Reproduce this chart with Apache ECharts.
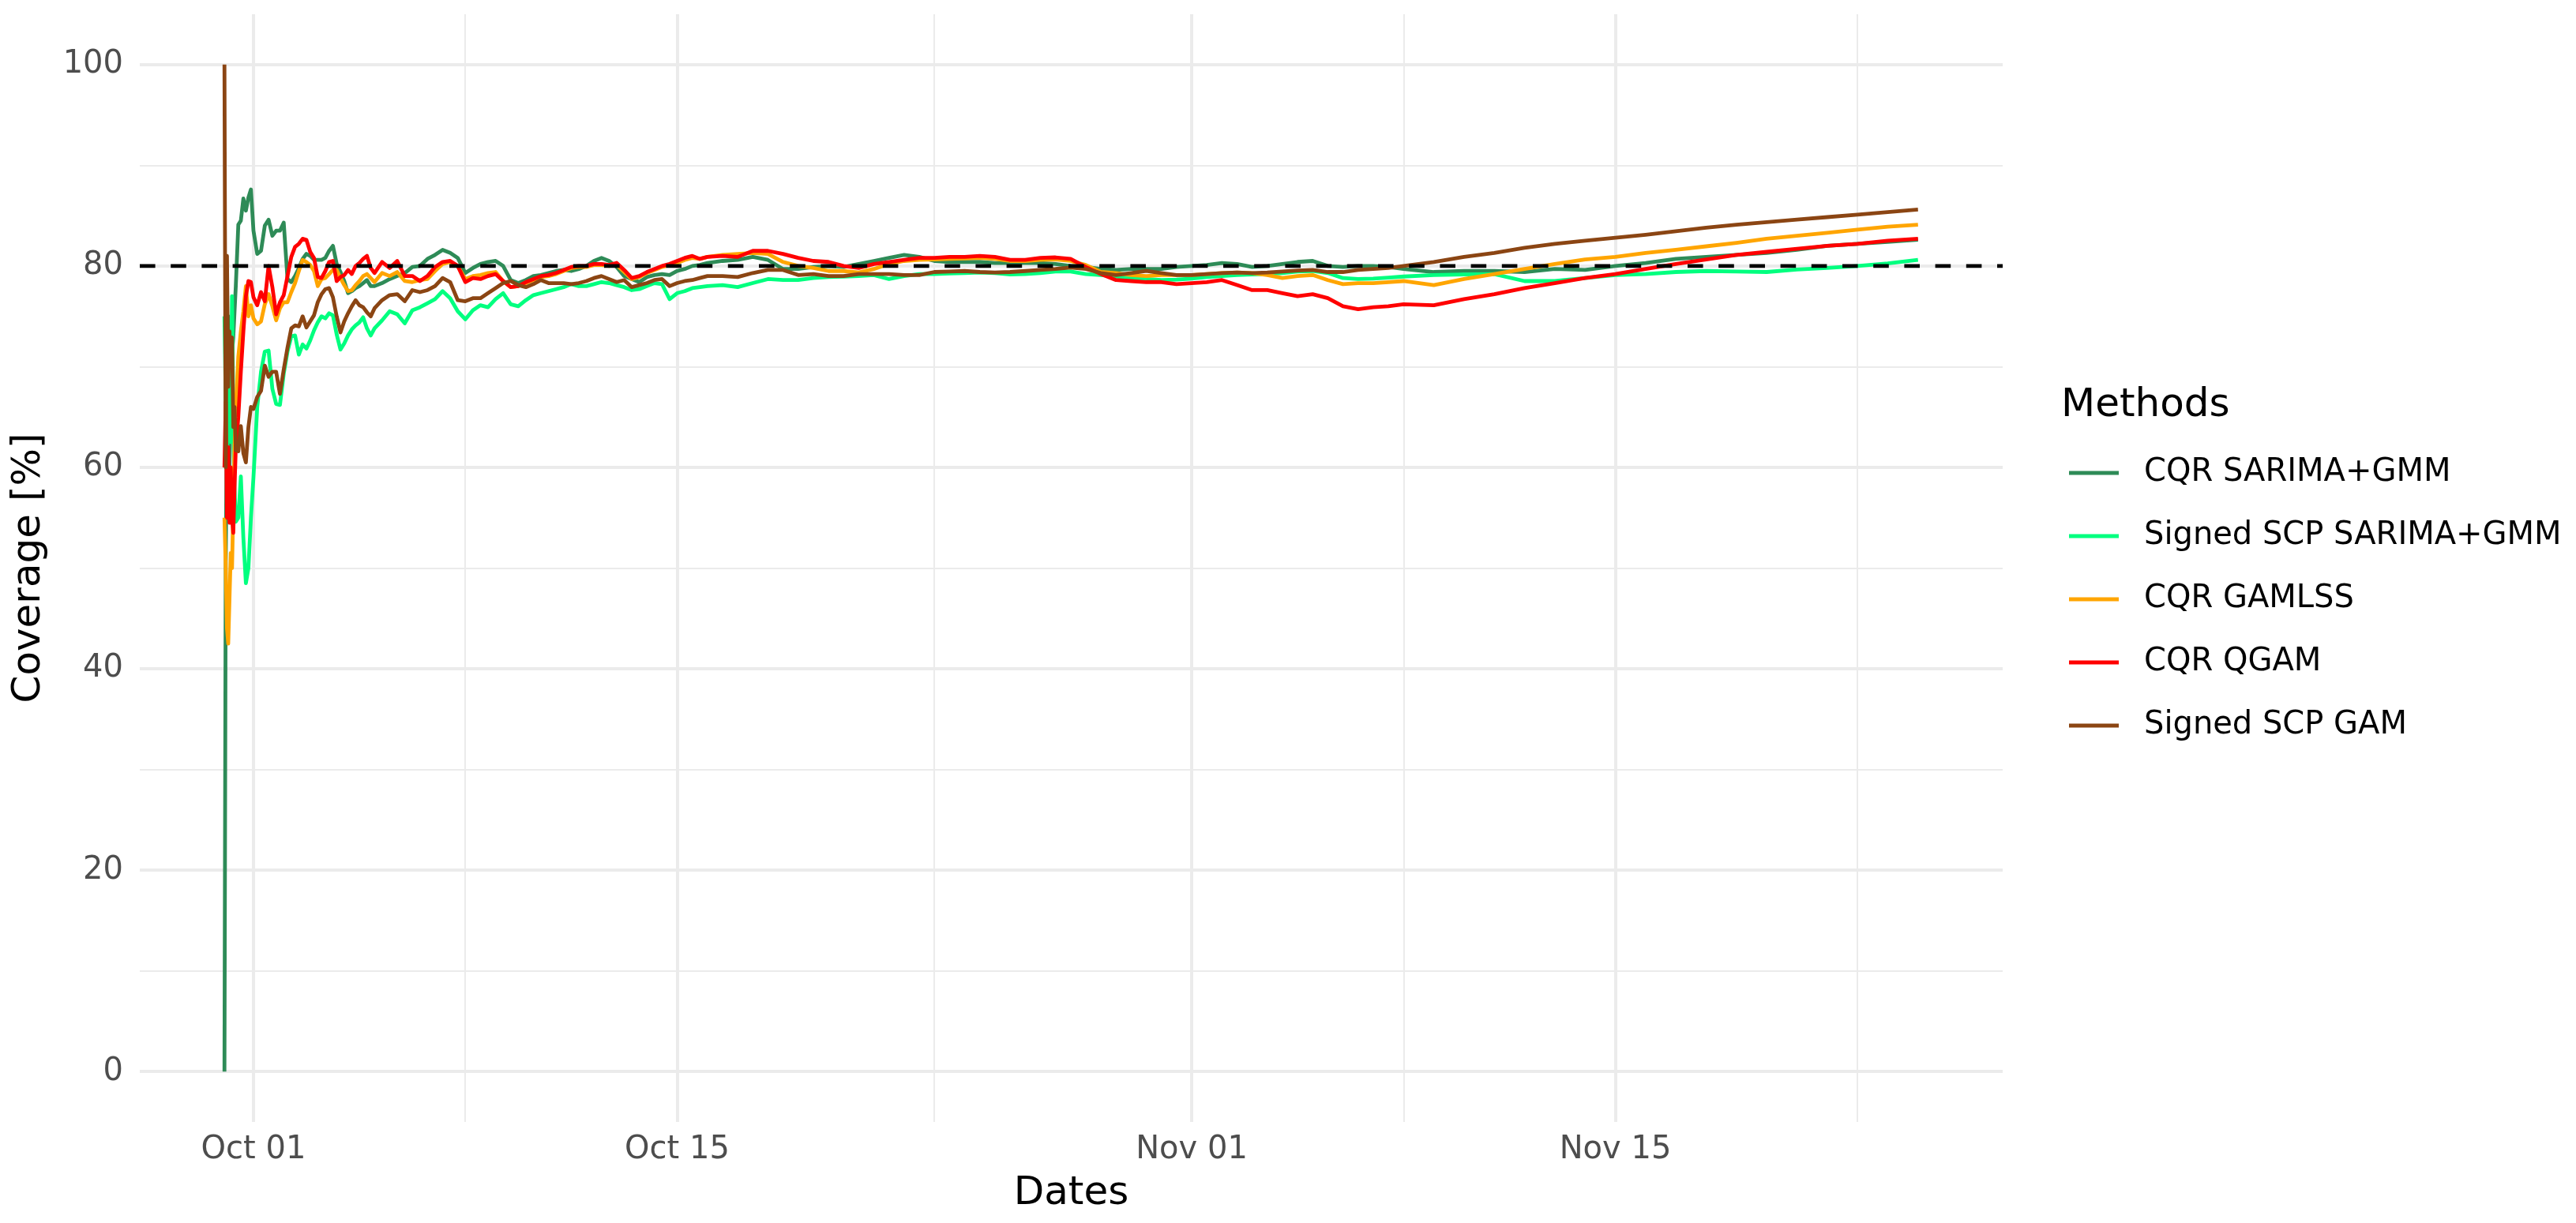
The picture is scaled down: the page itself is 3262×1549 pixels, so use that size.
<!DOCTYPE html>
<html>
<head>
<meta charset="utf-8">
<script src="https://cdn.jsdelivr.net/npm/echarts@6/dist/echarts.min.js"></script>
<style>
  html, body { margin: 0; padding: 0; background: #fff; }
  #chart { width: 3262px; height: 1549px; }
</style>
</head>
<body>
<div id="chart"></div>
<script>
// hours after Sep 30 00:00
const hours = [1,2,3,4,5,6,7,8,9,10,
  12,14,16,18,20,22,24,
  27,30,33,36,39,42,45,48,51,54,57,60,63,66,69,72,75,78,81,84,87,90,93,96,99,102,105,108,111,114,117,120,
  126,132,138,144,150,156,162,168,174,180,186,192,198,204,210,216,222,228,234,240,246,252,258,264,270,276,282,288,294,300,306,312,318,324,330,336,342,348,354,360,366,372,378,384,
  396,408,420,432,444,456,468,480,492,504,516,528,540,552,564,576,588,600,612,624,636,648,660,672,684,696,708,720,732,744,756,768,780,792,804,816,828,840,852,864,876,888,900,912,924,936,
  960,984,1008,1032,1056,1080,1104,1128,1152,1176,1200,1224,1248,1272,1296,1320,1344];

const cqrSarima = [0,50,66.7,75,60,66.7,71.4,72.9,75.5,78,
  84.1,84.5,86.7,85.5,86.8,87.6,83.5,
  81.2,81.5,84.0,84.6,83.0,83.5,83.5,84.3,78.7,78.4,79.0,79.8,80.7,81.2,81.0,80.6,80.6,80.6,80.8,81.5,82.0,80.2,79.4,78.5,77.3,77.5,77.8,78.0,78.3,78.6,78.0,78.0,
  78.3,78.7,79.0,79.3,79.9,80.0,80.7,81.1,81.6,81.3,80.8,79.3,79.8,80.2,80.4,80.5,80.0,78.6,78.3,78.6,79.0,79.1,79.3,79.5,79.6,79.5,79.7,80.0,80.5,80.8,80.5,79.9,79.0,78.7,78.4,78.9,79.1,79.2,79.1,79.5,79.7,80.0,80.1,80.3,
  80.5,80.6,80.9,80.6,79.7,79.7,79.9,80.0,79.9,80.2,80.5,80.8,81.1,80.9,80.5,80.4,80.4,80.4,80.3,80.3,80.3,80.3,80.2,80.0,79.9,79.7,79.6,79.7,79.7,79.7,79.9,80.0,80.1,80.3,80.2,79.9,80.0,80.2,80.4,80.5,80.0,79.9,80.0,80.0,79.9,79.7,
  79.4,79.5,79.5,79.4,79.7,79.6,80.0,80.3,80.7,80.9,81.1,81.3,81.6,82.0,82.2,82.4,82.6];

const scpSarima = [75,66.7,60,66.7,71.4,62.5,77,65.5,58,54.6,
  55.0,59.1,53,48.5,50,55,59,
  66.0,69.5,71.5,71.6,67.8,66.3,66.2,69.3,71.5,73.0,73.1,71.2,72.2,71.8,72.6,73.6,74.4,75.0,74.8,75.3,75.1,73.2,71.7,72.3,73.1,73.7,74.1,74.4,74.9,73.8,73.1,73.8,
  74.6,75.5,75.2,74.3,75.6,75.9,76.3,76.7,77.5,76.8,75.5,74.7,75.6,76.1,75.9,76.7,77.3,76.2,76.0,76.6,77.1,77.3,77.5,77.7,77.9,78.2,78.0,78.0,78.2,78.4,78.3,78.1,77.9,77.6,77.7,78.0,78.3,78.2,76.7,77.3,77.5,77.8,77.9,78.0,
  78.1,77.9,78.3,78.7,78.6,78.6,78.8,78.9,78.95,79.0,79.1,78.7,79.0,79.2,79.2,79.25,79.3,79.35,79.3,79.15,79.2,79.3,79.45,79.45,79.2,79.1,78.95,78.8,78.7,78.6,78.65,78.75,78.9,79.0,79.1,79.15,79.2,79.3,79.45,79.5,79.3,78.8,78.7,78.75,78.85,78.95,
  79.1,79.15,79.2,78.5,78.5,78.8,79.1,79.2,79.4,79.5,79.45,79.4,79.65,79.8,80.0,80.25,80.6];

const cqrGamlss = [55,50,44,42.5,47,51.5,50,56,62,66,
  71,73.5,75.5,78,75,76.1,74.8,
  74.2,74.5,76.2,77.2,76.0,74.6,75.8,76.4,76.4,77.4,78.3,79.5,80.6,80.4,80.1,79.5,78.0,78.7,78.8,79.2,79.6,79.6,78.8,78.1,77.5,77.6,78.1,78.5,79.0,79.2,78.8,78.4,
  79.3,79.0,79.4,78.5,78.4,78.6,78.7,79.5,80.2,80.4,80.0,78.7,79.0,79.1,79.3,79.4,78.5,77.9,78.0,78.3,78.6,78.9,79.0,79.2,79.5,79.8,79.9,79.9,80.1,80.1,80.0,80.1,79.4,78.7,78.9,79.3,79.6,79.9,80.1,80.3,80.6,80.8,80.7,80.9,
  81.1,81.2,81.3,81.2,80.4,80.0,79.8,79.5,79.5,79.35,79.7,80.2,80.5,80.6,80.65,80.7,80.75,80.8,80.7,80.5,80.5,80.6,80.65,80.5,80.1,79.4,79.3,79.1,79.0,79.1,79.1,79.1,79.2,79.3,79.35,79.3,79.1,78.8,79.0,79.1,78.6,78.2,78.3,78.3,78.4,78.5,
  78.1,78.7,79.2,79.7,80.2,80.65,80.9,81.3,81.6,81.95,82.3,82.7,83.0,83.3,83.6,83.9,84.1];

const cqrQgam = [60,66.5,55,62,54.5,60,55,53.5,58,62,
  65,69.5,73.5,77.0,78.5,78.4,76.9,
  76.1,77.4,76.5,80.0,77.9,75.2,76.4,77.1,79.0,80.9,81.9,82.2,82.7,82.6,81.4,80.8,78.9,78.8,79.5,80.4,80.5,78.5,78.9,79.1,79.6,79.2,80.0,80.3,80.7,81.0,79.8,79.3,
  80.4,79.8,80.5,79.0,79.0,78.5,79.0,79.9,80.4,80.5,80.0,78.4,78.8,78.7,79.0,79.2,78.5,77.9,78.0,78.4,78.7,79.0,79.1,79.3,79.6,79.9,80.0,80.0,80.2,80.2,80.1,80.3,79.6,78.8,79.0,79.4,79.7,80.0,80.2,80.5,80.8,81.0,80.7,80.9,
  81.0,80.9,81.5,81.5,81.2,80.8,80.5,80.4,80.0,79.8,80.2,80.4,80.6,80.8,80.8,80.9,80.9,81.0,80.9,80.6,80.6,80.8,80.85,80.7,79.9,79.2,78.6,78.5,78.4,78.4,78.2,78.3,78.4,78.6,78.1,77.6,77.6,77.3,77.0,77.2,76.8,76.0,75.7,75.9,76.0,76.2,
  76.1,76.7,77.2,77.8,78.3,78.8,79.2,79.7,80.2,80.65,81.1,81.4,81.7,82.0,82.2,82.5,82.7];

const scpGam = [100,60,81,68,73.5,70,72.9,64,66,61.7,
  61.6,64.1,61.4,60.5,64.0,66.0,65.8,
  67.0,67.6,70.1,69.0,69.5,69.5,67.3,69.7,71.9,73.8,74.1,74.0,75.0,73.9,74.5,75.1,76.4,77.2,77.7,77.8,76.9,75.0,73.4,74.5,75.3,76.0,76.6,76.1,75.9,75.4,75.0,75.8,
  76.6,77.1,77.2,76.5,77.6,77.4,77.6,78.0,78.8,78.4,76.6,76.5,76.8,76.8,77.3,77.8,78.3,78.5,78.1,77.9,78.2,78.6,78.3,78.3,78.3,78.2,78.3,78.5,78.8,79.0,78.7,78.4,78.6,77.9,78.1,78.3,78.6,78.7,78.0,78.3,78.5,78.6,78.8,79.0,
  79.0,78.9,79.3,79.6,79.6,79.1,79.2,79.0,79.0,79.2,79.2,79.2,79.1,79.1,79.4,79.45,79.5,79.4,79.35,79.4,79.5,79.6,79.7,79.85,79.7,79.3,79.1,79.3,79.5,79.3,79.1,79.1,79.2,79.3,79.35,79.3,79.35,79.45,79.55,79.6,79.4,79.4,79.6,79.7,79.8,80.0,
  80.4,80.9,81.3,81.8,82.2,82.5,82.8,83.1,83.45,83.8,84.1,84.35,84.6,84.85,85.1,85.35,85.6];

const methods = ['CQR SARIMA+GMM', 'Signed SCP SARIMA+GMM', 'CQR GAMLSS', 'CQR QGAM', 'Signed SCP GAM'];
const colors = ['#2E8B57', '#00FF7F', '#FFA500', '#FF0000', '#8B4513'];
const target = 80;

const xTickHours = [24, 360, 768, 1104];           // Oct 01, Oct 15, Nov 01, Nov 15
const xTickLabels = ['Oct 01', 'Oct 15', 'Nov 01', 'Nov 15'];
const xMinorHours = [192, 564, 936, 1296];
const yTicks = [0, 20, 40, 60, 80, 100];
const yMinor = [10, 30, 50, 70, 90];

// ggplot-style 5% expansion
const span = hours[hours.length - 1] - hours[0];
const xMin = hours[0] - span * 0.05;
const xMax = hours[hours.length - 1] + span * 0.05;

const font = 'DejaVu Sans';
const gridColor = '#EBEBEB';

const chart = echarts.init(document.getElementById('chart'));

const values = [cqrSarima, scpSarima, cqrGamlss, cqrQgam, scpGam];
const series = methods.map((name, k) => ({
    name: name,
    type: 'line',
    data: hours.map((h, i) => [h, values[k][i]]),
    showSymbol: false,
    symbol: 'none',
    color: colors[k],
    lineStyle: { color: colors[k], width: 4.8, join: 'round' },
    z: 2
}));
series.push({
    name: 'target',
    type: 'line',
    data: [[xMin, target], [xMax, target]],
    showSymbol: false,
    symbol: 'none',
    lineStyle: { color: '#000', width: 4.7, type: [19.6, 19.6] },
    z: 5
});

chart.setOption({
    animation: false,
    backgroundColor: '#fff',
    title: {
        text: 'Methods',
        left: 2610,
        top: 489,
        padding: 0,
        textStyle: { fontFamily: font, fontSize: 50, fontWeight: 'normal', color: '#000' }
    },
    legend: {
        data: methods,
        orient: 'vertical',
        left: 2620,
        top: 579,
        padding: 0,
        itemWidth: 63,
        itemHeight: 5,
        itemGap: 40,
        icon: 'rect',
        selectedMode: false,
        itemStyle: { borderWidth: 0 },
        textStyle: { fontFamily: font, fontSize: 40, color: '#000', lineHeight: 40, padding: [0, 0, 0, 27] }
    },
    grid: { left: 177, top: 18, width: 2359, height: 1403, containLabel: false },
    xAxis: [{
        type: 'value',
        min: xMin,
        max: xMax,
        name: 'Dates',
        nameLocation: 'middle',
        nameGap: 66,
        nameTextStyle: { fontFamily: font, fontSize: 50, color: '#000' },
        axisLine: { show: false },
        axisTick: { show: false, customValues: xTickHours },
        axisLabel: {
            customValues: xTickHours,
            margin: 16,
            fontFamily: font, fontSize: 40, color: '#4D4D4D',
            formatter: v => xTickLabels[xTickHours.indexOf(v)] || ''
        },
        splitLine: { show: true, lineStyle: { color: gridColor, width: 4 } }
    }, {
        type: 'value',
        min: xMin,
        max: xMax,
        position: 'top',
        axisLine: { show: false },
        axisTick: { show: false, customValues: xMinorHours },
        axisLabel: { show: false, customValues: xMinorHours },
        splitLine: { show: true, lineStyle: { color: gridColor, width: 2 } }
    }],
    yAxis: [{
        type: 'value',
        min: -5,
        max: 105,
        name: 'Coverage [%]',
        nameLocation: 'middle',
        nameGap: 115,
        nameTextStyle: { fontFamily: font, fontSize: 50, color: '#000' },
        axisLine: { show: false },
        axisTick: { show: false, customValues: yTicks },
        axisLabel: { customValues: yTicks, margin: 21, fontFamily: font, fontSize: 40, color: '#4D4D4D' },
        splitLine: { show: true, lineStyle: { color: gridColor, width: 4 } }
    }, {
        type: 'value',
        min: -5,
        max: 105,
        position: 'right',
        axisLine: { show: false },
        axisTick: { show: false, customValues: yMinor },
        axisLabel: { show: false, customValues: yMinor },
        splitLine: { show: true, lineStyle: { color: gridColor, width: 2 } }
    }],
    series: series
});
</script>
</body>
</html>
